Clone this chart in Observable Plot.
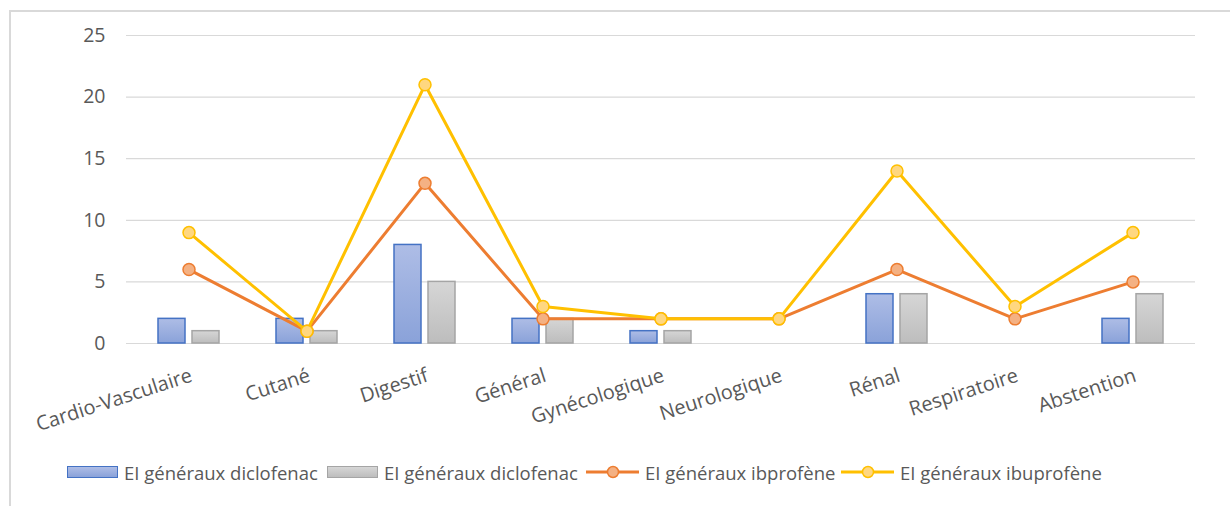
<!DOCTYPE html>
<html>
<head>
<meta charset="utf-8">
<script src="https://cdn.jsdelivr.net/npm/d3@7"></script>
<script src="https://cdn.jsdelivr.net/npm/@observablehq/plot@0.6"></script>
<style>
  body { margin: 0; background: #fff; font-family: "Open Sans", sans-serif; }
  #wrap { position: relative; width: 1230px; height: 506px; overflow: hidden; background: #fff; }
  #frame { position: absolute; left: 9px; top: 10px; width: 1300px; height: 600px;
           border-left: 2px solid #d9d9d9; border-top: 2px solid #d9d9d9; }
  #chart { position: absolute; left: 0; top: 0; }
  #legend { position: absolute; left: 0; top: 460px; width: 1230px; height: 24px; }
  .item { position: absolute; top: 0; height: 24px; display: flex; align-items: center;
          font-size: 18.5px; color: #595959; white-space: nowrap; }
  .sw { width: 49px; height: 10px; margin-right: 6px; box-sizing: content-box; }
  .item svg { margin-right: 6px; }
</style>
</head>
<body>
<div id="wrap">
  <div id="frame"></div>
  <div id="chart"></div>
  <div id="legend"></div>
</div>
<script>
// ---- data ----
const categories = ["Cardio-Vasculaire", "Cutané", "Digestif", "Général", "Gynécologique",
                    "Neurologique", "Rénal", "Respiratoire", "Abstention"];
const diclofenacA = [2, 2, 8, 2, 1, 0, 4, 0, 2];
const diclofenacB = [1, 1, 5, 2, 1, 0, 4, 0, 4];
const ibprofene   = [6, 1, 13, 2, 2, 2, 6, 2, 5];
const ibuprofene  = [9, 1, 21, 3, 2, 2, 14, 3, 9];
const seriesNames = ["EI généraux diclofenac", "EI généraux diclofenac",
                     "EI généraux ibprofène", "EI généraux ibuprofène"];
const yTicks = [0, 5, 10, 15, 20, 25];

const rows = (vals) => categories.map((c, i) => ({cat: c, v: vals[i]}));
const barsA = rows(diclofenacA).filter(d => d.v > 0);
const barsB = rows(diclofenacB).filter(d => d.v > 0);
const lineO = rows(ibprofene);
const lineY = rows(ibuprofene);

const textColor = "#595959";

const plot = Plot.plot({
  width: 1230,
  height: 440,
  marginLeft: 126,
  marginRight: 35,
  marginTop: 35,
  marginBottom: 97,
  style: { fontFamily: "'Open Sans', sans-serif", background: "transparent", overflow: "visible" },
  x: { type: "band", domain: categories, paddingInner: 0.773, paddingOuter: 0.3865, axis: null },
  y: { domain: [0, 25], ticks: yTicks, axis: null },
  marks: [
    Plot.gridY(yTicks, { stroke: "#d9d9d9", strokeOpacity: 1, strokeWidth: 1.2 }),
    Plot.axisY(yTicks, { tickSize: 0, tickPadding: 21, fontSize: 19.5, fill: textColor, label: null }),
    Plot.text(categories, { x: d => d, frameAnchor: "bottom", dy: 24, rotate: -18,
      textAnchor: "end", lineAnchor: "top", fontSize: 20, fill: textColor }),
    Plot.barY(barsA, { x: "cat", y: "v", dx: -17, fill: "url(#gBlue)", stroke: "#4472c4", strokeWidth: 1.5 }),
    Plot.barY(barsB, { x: "cat", y: "v", dx: 17, fill: "url(#gGray)", stroke: "#a5a5a5", strokeWidth: 1.5 }),
    Plot.lineY(lineO, { x: "cat", y: "v", stroke: "#ed7d31", strokeWidth: 3, curve: "linear" }),
    Plot.dot(lineO, { x: "cat", y: "v", r: 6, fill: "#f4b183", stroke: "#ed7d31", strokeWidth: 1.5 }),
    Plot.lineY(lineY, { x: "cat", y: "v", stroke: "#ffc000", strokeWidth: 3, curve: "linear" }),
    Plot.dot(lineY, { x: "cat", y: "v", r: 6, fill: "#ffd780", stroke: "#ffc000", strokeWidth: 1.5 })
  ]
});

// gradients
const NS = "http://www.w3.org/2000/svg";
const defs = document.createElementNS(NS, "defs");
function grad(id, c1, c2) {
  const g = document.createElementNS(NS, "linearGradient");
  g.setAttribute("id", id);
  g.setAttribute("x1", "0"); g.setAttribute("y1", "0");
  g.setAttribute("x2", "0"); g.setAttribute("y2", "1");
  [[0, c1], [1, c2]].forEach(([o, c]) => {
    const s = document.createElementNS(NS, "stop");
    s.setAttribute("offset", o); s.setAttribute("stop-color", c);
    g.appendChild(s);
  });
  defs.appendChild(g);
}
grad("gBlue", "#aebde6", "#8aa2d9");
grad("gGray", "#d6d6d6", "#bdbdbd");
plot.insertBefore(defs, plot.firstChild);
document.getElementById("chart").appendChild(plot);

// legend
const legend = document.getElementById("legend");
const lefts = [67, 327, 586, 841];
const kinds = [
  { type: "bar", bg: "linear-gradient(#aebde6,#8aa2d9)", border: "#4472c4" },
  { type: "bar", bg: "linear-gradient(#d6d6d6,#bdbdbd)", border: "#a5a5a5" },
  { type: "line", stroke: "#ed7d31", fill: "#f4b183" },
  { type: "line", stroke: "#ffc000", fill: "#ffd780" }
];
seriesNames.forEach((name, i) => {
  const item = document.createElement("div");
  item.className = "item";
  item.style.left = lefts[i] + "px";
  const k = kinds[i];
  if (k.type === "bar") {
    const sw = document.createElement("div");
    sw.className = "sw";
    sw.style.background = k.bg;
    sw.style.border = "1.5px solid " + k.border;
    item.appendChild(sw);
  } else {
    const s = document.createElementNS(NS, "svg");
    s.setAttribute("width", 53); s.setAttribute("height", 16);
    s.innerHTML = `<line x1="0" y1="8" x2="53" y2="8" stroke="${k.stroke}" stroke-width="3"/>` +
      `<circle cx="27" cy="8" r="5.5" fill="${k.fill}" stroke="${k.stroke}" stroke-width="1.5"/>`;
    item.appendChild(s);
  }
  const t = document.createElement("span");
  t.textContent = name;
  item.appendChild(t);
  legend.appendChild(item);
});
</script>
</body>
</html>
